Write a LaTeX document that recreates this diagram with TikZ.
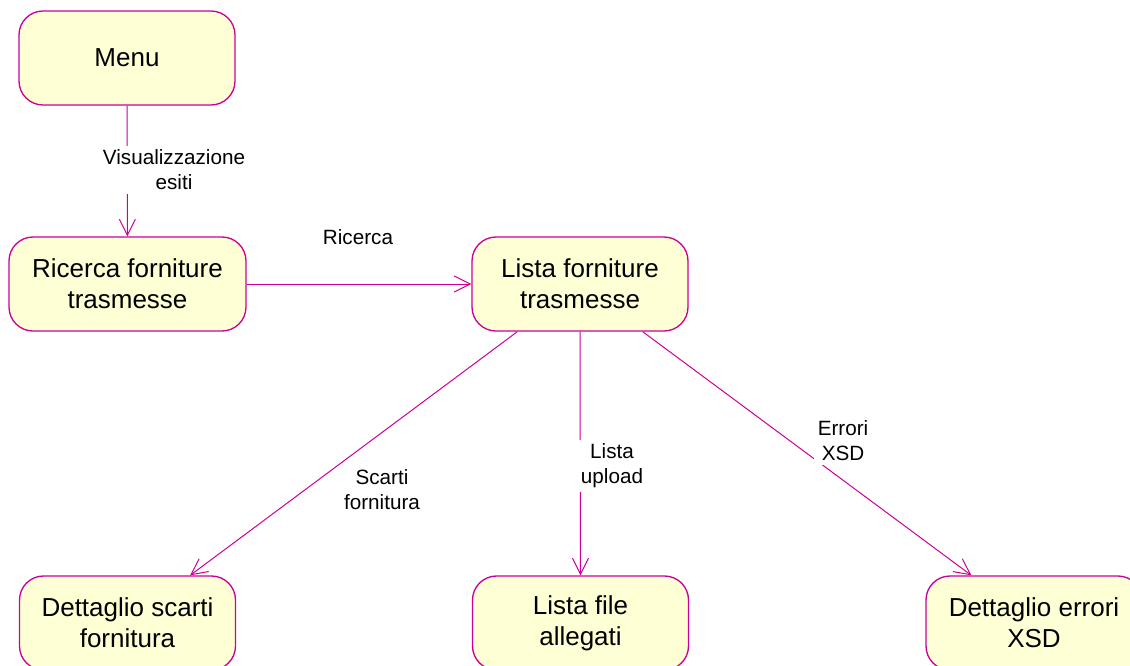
\documentclass[tikz,border=0pt]{standalone}
\usepackage{fontspec}
\setmainfont{Liberation Sans}
\usetikzlibrary{arrows.meta}
\definecolor{statepink}{RGB}{204,0,153}
\definecolor{stateyellow}{RGB}{255,255,213}
\begin{document}
\begin{tikzpicture}[
  x=0.75pt, y=-0.75pt,
  state/.style={rectangle, rounded corners=18pt, draw=statepink, line width=1pt, fill=stateyellow,
    minimum width=162pt, minimum height=70.5pt, align=center, inner sep=2pt,
    font=\fontsize{19.5}{23.5}\selectfont},
  trans/.style={draw=statepink, line width=0.75pt, -{Straight Barb[length=12pt,width=12pt]}},
  lbl/.style={fill=white, inner sep=3pt, align=center, font=\fontsize{15.5}{18.75}\selectfont}
]
\useasboundingbox (0,0) rectangle (1130,665);
\node[state] (menu) at (127,58) {Menu};
\node[state, minimum width=177.75pt] (ricerca) at (127.5,284) {Ricerca forniture\\trasmesse};
\node[state] (lista) at (580,284) {Lista forniture\\trasmesse};
\node[state] (scarti) at (127.5,623) {Dettaglio scarti\\fornitura};
\node[state] (allegati) at (580.5,623) {Lista file\\allegati};
\node[state] (errori) at (1034,623) {Dettaglio errori\\XSD};

\draw[trans] (menu) -- (ricerca);
\draw[trans] (ricerca) -- (lista);
\draw[trans] ([xshift=-47pt]lista.south) -- ([xshift=47pt]scarti.north);
\draw[trans] (lista.south) -- (allegati.north);
\draw[trans] ([xshift=47pt]lista.south) -- ([xshift=-47pt]errori.north);

\node[lbl] (lvis) at (174,170) {Visualizzazione\\esiti};
\node[lbl, fill=none] (lric) at (358,237) {Ricerca};
\node[lbl, fill=none] (lsca) at (382,490) {Scarti\\fornitura};
\node[lbl] (lupl) at (612,466) {Lista\\upload};
\node[lbl] (lerr) at (843,441) {Errori\\XSD};
\end{tikzpicture}
\end{document}
